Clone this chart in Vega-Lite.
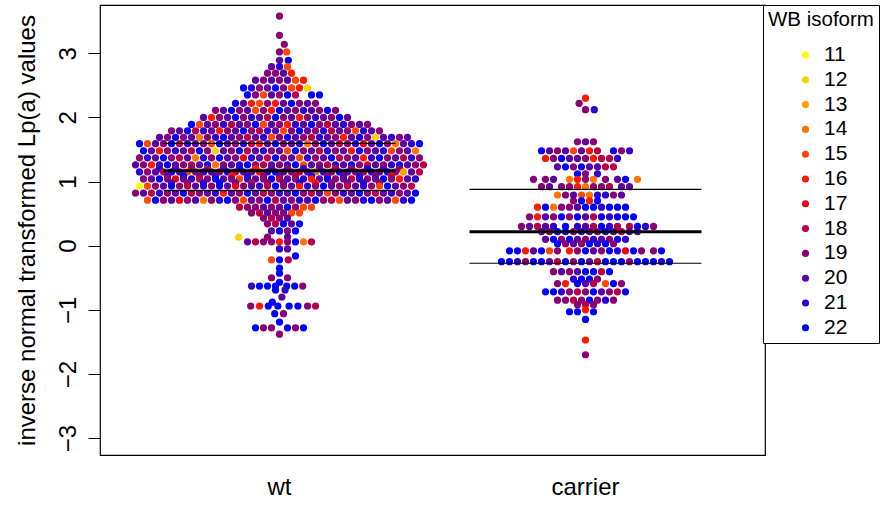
{
"$schema":"https://vega.github.io/schema/vega-lite/v6.json",
"width":665,"height":450,
"autosize":"none",
"padding":{"left":100,"top":5,"right":119,"bottom":53},
"background":"white",
"config":{"view":{"stroke":"black","strokeWidth":1.2},"font":"Liberation Sans"},
"datasets":{
"med":[{"g":"wt","v":1.169},{"g":"carrier","v":0.218}],
"quart":[{"g":"wt","v":0.857},{"g":"wt","v":1.596},{"g":"carrier","v":-0.274},{"g":"carrier","v":0.879}],
"pts":[
{"g":"wt","y":3.58,"o":0,"c":19},{"g":"wt","y":3.28,"o":0,"c":19},{"g":"wt","y":3.14,"o":0.6,"c":19},
{"g":"wt","y":3.02,"o":0,"c":19},{"g":"wt","y":3.02,"o":0.9,"c":15},
{"g":"wt","y":2.89,"o":0,"c":20},{"g":"wt","y":2.89,"o":1.1,"c":22},
{"g":"wt","y":2.79,"o":-1,"c":20},{"g":"wt","y":2.79,"o":0,"c":21},{"g":"wt","y":2.79,"o":1,"c":15},
{"g":"wt","y":2.69,"o":-1.5,"c":19},{"g":"wt","y":2.69,"o":-0.5,"c":19},{"g":"wt","y":2.69,"o":0.5,"c":20},{"g":"wt","y":2.69,"o":1.5,"c":16},
{"g":"wt","y":2.58,"o":-3,"c":20},{"g":"wt","y":2.58,"o":-2,"c":19},{"g":"wt","y":2.58,"o":-1,"c":20},{"g":"wt","y":2.58,"o":0,"c":19},{"g":"wt","y":2.58,"o":1,"c":20},{"g":"wt","y":2.58,"o":2,"c":15},{"g":"wt","y":2.58,"o":3,"c":16},
{"g":"wt","y":2.46,"o":-4.5,"c":22},{"g":"wt","y":2.46,"o":-3.5,"c":21},{"g":"wt","y":2.46,"o":-2.5,"c":19},{"g":"wt","y":2.46,"o":-1.5,"c":20},{"g":"wt","y":2.46,"o":-0.5,"c":22},{"g":"wt","y":2.46,"o":0.5,"c":19},{"g":"wt","y":2.46,"o":1.5,"c":15},{"g":"wt","y":2.46,"o":2.5,"c":16},{"g":"wt","y":2.46,"o":3.5,"c":12},
{"g":"wt","y":2.35,"o":-4,"c":22},{"g":"wt","y":2.35,"o":-3,"c":19},{"g":"wt","y":2.35,"o":-2,"c":15},{"g":"wt","y":2.35,"o":-1,"c":20},{"g":"wt","y":2.35,"o":0,"c":19},{"g":"wt","y":2.35,"o":1,"c":22},{"g":"wt","y":2.35,"o":2,"c":18},{"g":"wt","y":2.35,"o":4,"c":22},{"g":"wt","y":2.35,"o":5,"c":22},
{"g":"wt","y":2.22,"o":-5.5,"c":22},{"g":"wt","y":2.22,"o":-4.5,"c":20},{"g":"wt","y":2.22,"o":-3.5,"c":16},{"g":"wt","y":2.22,"o":-2.5,"c":15},{"g":"wt","y":2.22,"o":-1.5,"c":19},{"g":"wt","y":2.22,"o":-0.5,"c":16},{"g":"wt","y":2.22,"o":0.5,"c":20},{"g":"wt","y":2.22,"o":1.5,"c":22},{"g":"wt","y":2.22,"o":2.5,"c":19},{"g":"wt","y":2.22,"o":3.5,"c":20},{"g":"wt","y":2.22,"o":4.5,"c":19},
{"g":"wt","y":2.11,"o":-8,"c":19},{"g":"wt","y":2.11,"o":-7,"c":20},{"g":"wt","y":2.11,"o":-6,"c":22},{"g":"wt","y":2.11,"o":-5,"c":19},{"g":"wt","y":2.11,"o":-4,"c":20},{"g":"wt","y":2.11,"o":-3,"c":15},{"g":"wt","y":2.11,"o":-2,"c":19},{"g":"wt","y":2.11,"o":-1,"c":16},{"g":"wt","y":2.11,"o":0,"c":22},{"g":"wt","y":2.11,"o":1,"c":20},{"g":"wt","y":2.11,"o":2,"c":19},{"g":"wt","y":2.11,"o":3,"c":21},{"g":"wt","y":2.11,"o":4,"c":20},{"g":"wt","y":2.11,"o":5,"c":19},{"g":"wt","y":2.11,"o":6,"c":22},{"g":"wt","y":2.11,"o":7,"c":19},
{"g":"wt","y":2.0,"o":-9.5,"c":20},{"g":"wt","y":2.0,"o":-8.5,"c":16},{"g":"wt","y":2.0,"o":-7.5,"c":19},{"g":"wt","y":2.0,"o":-6.5,"c":20},{"g":"wt","y":2.0,"o":-5.5,"c":22},{"g":"wt","y":2.0,"o":-4.5,"c":19},{"g":"wt","y":2.0,"o":-3.5,"c":21},{"g":"wt","y":2.0,"o":-2.5,"c":20},{"g":"wt","y":2.0,"o":-1.5,"c":18},{"g":"wt","y":2.0,"o":-0.5,"c":22},{"g":"wt","y":2.0,"o":0.5,"c":19},{"g":"wt","y":2.0,"o":1.5,"c":20},{"g":"wt","y":2.0,"o":2.5,"c":16},{"g":"wt","y":2.0,"o":3.5,"c":19},{"g":"wt","y":2.0,"o":4.5,"c":21},{"g":"wt","y":2.0,"o":5.5,"c":20},{"g":"wt","y":2.0,"o":6.5,"c":19},{"g":"wt","y":2.0,"o":7.5,"c":22},{"g":"wt","y":2.0,"o":8.5,"c":20},
{"g":"wt","y":1.89,"o":-11,"c":22},{"g":"wt","y":1.89,"o":-10,"c":15},{"g":"wt","y":1.89,"o":-9,"c":20},{"g":"wt","y":1.89,"o":-8,"c":19},{"g":"wt","y":1.89,"o":-7,"c":21},{"g":"wt","y":1.89,"o":-6,"c":18},{"g":"wt","y":1.89,"o":-5,"c":20},{"g":"wt","y":1.89,"o":-4,"c":19},{"g":"wt","y":1.89,"o":-3,"c":22},{"g":"wt","y":1.89,"o":-2,"c":15},{"g":"wt","y":1.89,"o":-1,"c":20},{"g":"wt","y":1.89,"o":0,"c":19},{"g":"wt","y":1.89,"o":1,"c":16},{"g":"wt","y":1.89,"o":2,"c":21},{"g":"wt","y":1.89,"o":3,"c":20},{"g":"wt","y":1.89,"o":4,"c":22},{"g":"wt","y":1.89,"o":5,"c":19},{"g":"wt","y":1.89,"o":6,"c":18},{"g":"wt","y":1.89,"o":7,"c":20},{"g":"wt","y":1.89,"o":8,"c":21},{"g":"wt","y":1.89,"o":9,"c":19},{"g":"wt","y":1.89,"o":10,"c":20},{"g":"wt","y":1.89,"o":11,"c":19},
{"g":"wt","y":1.79,"o":-13.5,"c":19},{"g":"wt","y":1.79,"o":-12.5,"c":20},{"g":"wt","y":1.79,"o":-11.5,"c":22},{"g":"wt","y":1.79,"o":-10.5,"c":18},{"g":"wt","y":1.79,"o":-9.5,"c":21},{"g":"wt","y":1.79,"o":-8.5,"c":20},{"g":"wt","y":1.79,"o":-7.5,"c":16},{"g":"wt","y":1.79,"o":-6.5,"c":19},{"g":"wt","y":1.79,"o":-5.5,"c":20},{"g":"wt","y":1.79,"o":-4.5,"c":22},{"g":"wt","y":1.79,"o":-3.5,"c":19},{"g":"wt","y":1.79,"o":-2.5,"c":18},{"g":"wt","y":1.79,"o":-1.5,"c":21},{"g":"wt","y":1.79,"o":-0.5,"c":20},{"g":"wt","y":1.79,"o":0.5,"c":15},{"g":"wt","y":1.79,"o":1.5,"c":19},{"g":"wt","y":1.79,"o":2.5,"c":22},{"g":"wt","y":1.79,"o":3.5,"c":20},{"g":"wt","y":1.79,"o":4.5,"c":19},{"g":"wt","y":1.79,"o":5.5,"c":21},{"g":"wt","y":1.79,"o":6.5,"c":18},{"g":"wt","y":1.79,"o":7.5,"c":20},{"g":"wt","y":1.79,"o":8.5,"c":19},{"g":"wt","y":1.79,"o":9.5,"c":15},{"g":"wt","y":1.79,"o":10.5,"c":21},{"g":"wt","y":1.79,"o":11.5,"c":20},{"g":"wt","y":1.79,"o":12.5,"c":19},
{"g":"wt","y":1.69,"o":-15,"c":20},{"g":"wt","y":1.69,"o":-14,"c":19},{"g":"wt","y":1.69,"o":-13,"c":22},{"g":"wt","y":1.69,"o":-12,"c":19},{"g":"wt","y":1.69,"o":-11,"c":20},{"g":"wt","y":1.69,"o":-10,"c":14},{"g":"wt","y":1.69,"o":-9,"c":19},{"g":"wt","y":1.69,"o":-8,"c":21},{"g":"wt","y":1.69,"o":-7,"c":22},{"g":"wt","y":1.69,"o":-6,"c":20},{"g":"wt","y":1.69,"o":-5,"c":19},{"g":"wt","y":1.69,"o":-4,"c":18},{"g":"wt","y":1.69,"o":-3,"c":20},{"g":"wt","y":1.69,"o":-2,"c":21},{"g":"wt","y":1.69,"o":-1,"c":15},{"g":"wt","y":1.69,"o":0,"c":19},{"g":"wt","y":1.69,"o":1,"c":22},{"g":"wt","y":1.69,"o":2,"c":20},{"g":"wt","y":1.69,"o":3,"c":19},{"g":"wt","y":1.69,"o":4,"c":18},{"g":"wt","y":1.69,"o":5,"c":21},{"g":"wt","y":1.69,"o":6,"c":20},{"g":"wt","y":1.69,"o":7,"c":19},{"g":"wt","y":1.69,"o":8,"c":16},{"g":"wt","y":1.69,"o":9,"c":20},{"g":"wt","y":1.69,"o":10,"c":22},{"g":"wt","y":1.69,"o":11,"c":19},{"g":"wt","y":1.69,"o":12,"c":12},{"g":"wt","y":1.69,"o":13,"c":20},{"g":"wt","y":1.69,"o":14,"c":21},{"g":"wt","y":1.69,"o":15,"c":19},{"g":"wt","y":1.69,"o":16,"c":20},
{"g":"wt","y":1.59,"o":-17.5,"c":22},{"g":"wt","y":1.59,"o":-16.5,"c":15},{"g":"wt","y":1.59,"o":-15.5,"c":20},{"g":"wt","y":1.59,"o":-14.5,"c":19},{"g":"wt","y":1.59,"o":-13.5,"c":22},{"g":"wt","y":1.59,"o":-12.5,"c":18},{"g":"wt","y":1.59,"o":-11.5,"c":21},{"g":"wt","y":1.59,"o":-10.5,"c":20},{"g":"wt","y":1.59,"o":-9.5,"c":19},{"g":"wt","y":1.59,"o":-8.5,"c":15},{"g":"wt","y":1.59,"o":-7.5,"c":22},{"g":"wt","y":1.59,"o":-6.5,"c":20},{"g":"wt","y":1.59,"o":-5.5,"c":19},{"g":"wt","y":1.59,"o":-4.5,"c":21},{"g":"wt","y":1.59,"o":-3.5,"c":18},{"g":"wt","y":1.59,"o":-2.5,"c":16},{"g":"wt","y":1.59,"o":-1.5,"c":20},{"g":"wt","y":1.59,"o":-0.5,"c":22},{"g":"wt","y":1.59,"o":0.5,"c":19},{"g":"wt","y":1.59,"o":1.5,"c":20},{"g":"wt","y":1.59,"o":2.5,"c":21},{"g":"wt","y":1.59,"o":3.5,"c":14},{"g":"wt","y":1.59,"o":4.5,"c":19},{"g":"wt","y":1.59,"o":5.5,"c":22},{"g":"wt","y":1.59,"o":6.5,"c":20},{"g":"wt","y":1.59,"o":7.5,"c":18},{"g":"wt","y":1.59,"o":8.5,"c":19},{"g":"wt","y":1.59,"o":9.5,"c":21},{"g":"wt","y":1.59,"o":10.5,"c":17},{"g":"wt","y":1.59,"o":11.5,"c":20},{"g":"wt","y":1.59,"o":12.5,"c":22},{"g":"wt","y":1.59,"o":13.5,"c":19},{"g":"wt","y":1.59,"o":14.5,"c":14},{"g":"wt","y":1.59,"o":15.5,"c":20},{"g":"wt","y":1.59,"o":16.5,"c":21},{"g":"wt","y":1.59,"o":17.5,"c":22},
{"g":"wt","y":1.48,"o":-17,"c":22},{"g":"wt","y":1.48,"o":-16,"c":20},{"g":"wt","y":1.48,"o":-15,"c":16},{"g":"wt","y":1.48,"o":-14,"c":19},{"g":"wt","y":1.48,"o":-13,"c":21},{"g":"wt","y":1.48,"o":-12,"c":20},{"g":"wt","y":1.48,"o":-11,"c":18},{"g":"wt","y":1.48,"o":-10,"c":22},{"g":"wt","y":1.48,"o":-9,"c":19},{"g":"wt","y":1.48,"o":-8,"c":12},{"g":"wt","y":1.48,"o":-7,"c":20},{"g":"wt","y":1.48,"o":-6,"c":19},{"g":"wt","y":1.48,"o":-5,"c":22},{"g":"wt","y":1.48,"o":-4,"c":18},{"g":"wt","y":1.48,"o":-3,"c":20},{"g":"wt","y":1.48,"o":-2,"c":21},{"g":"wt","y":1.48,"o":-1,"c":19},{"g":"wt","y":1.48,"o":0,"c":20},{"g":"wt","y":1.48,"o":1,"c":15},{"g":"wt","y":1.48,"o":2,"c":22},{"g":"wt","y":1.48,"o":3,"c":19},{"g":"wt","y":1.48,"o":4,"c":20},{"g":"wt","y":1.48,"o":5,"c":18},{"g":"wt","y":1.48,"o":6,"c":21},{"g":"wt","y":1.48,"o":7,"c":19},{"g":"wt","y":1.48,"o":8,"c":20},{"g":"wt","y":1.48,"o":9,"c":16},{"g":"wt","y":1.48,"o":10,"c":22},{"g":"wt","y":1.48,"o":11,"c":19},{"g":"wt","y":1.48,"o":12,"c":20},{"g":"wt","y":1.48,"o":13,"c":21},{"g":"wt","y":1.48,"o":14,"c":15},{"g":"wt","y":1.48,"o":15,"c":19},{"g":"wt","y":1.48,"o":16,"c":20},{"g":"wt","y":1.48,"o":17,"c":14},
{"g":"wt","y":1.37,"o":-17.5,"c":19},{"g":"wt","y":1.37,"o":-16.5,"c":21},{"g":"wt","y":1.37,"o":-15.5,"c":20},{"g":"wt","y":1.37,"o":-14.5,"c":22},{"g":"wt","y":1.37,"o":-13.5,"c":19},{"g":"wt","y":1.37,"o":-12.5,"c":18},{"g":"wt","y":1.37,"o":-11.5,"c":20},{"g":"wt","y":1.37,"o":-10.5,"c":14},{"g":"wt","y":1.37,"o":-9.5,"c":21},{"g":"wt","y":1.37,"o":-8.5,"c":19},{"g":"wt","y":1.37,"o":-7.5,"c":22},{"g":"wt","y":1.37,"o":-6.5,"c":20},{"g":"wt","y":1.37,"o":-5.5,"c":19},{"g":"wt","y":1.37,"o":-4.5,"c":17},{"g":"wt","y":1.37,"o":-3.5,"c":21},{"g":"wt","y":1.37,"o":-2.5,"c":20},{"g":"wt","y":1.37,"o":-1.5,"c":18},{"g":"wt","y":1.37,"o":-0.5,"c":22},{"g":"wt","y":1.37,"o":0.5,"c":19},{"g":"wt","y":1.37,"o":1.5,"c":20},{"g":"wt","y":1.37,"o":2.5,"c":15},{"g":"wt","y":1.37,"o":3.5,"c":21},{"g":"wt","y":1.37,"o":4.5,"c":19},{"g":"wt","y":1.37,"o":5.5,"c":20},{"g":"wt","y":1.37,"o":6.5,"c":22},{"g":"wt","y":1.37,"o":7.5,"c":18},{"g":"wt","y":1.37,"o":8.5,"c":19},{"g":"wt","y":1.37,"o":9.5,"c":20},{"g":"wt","y":1.37,"o":10.5,"c":16},{"g":"wt","y":1.37,"o":11.5,"c":21},{"g":"wt","y":1.37,"o":12.5,"c":22},{"g":"wt","y":1.37,"o":13.5,"c":19},{"g":"wt","y":1.37,"o":14.5,"c":20},{"g":"wt","y":1.37,"o":15.5,"c":18},{"g":"wt","y":1.37,"o":16.5,"c":21},{"g":"wt","y":1.37,"o":17.5,"c":19},
{"g":"wt","y":1.26,"o":-18,"c":20},{"g":"wt","y":1.26,"o":-17,"c":19},{"g":"wt","y":1.26,"o":-16,"c":16},{"g":"wt","y":1.26,"o":-15,"c":21},{"g":"wt","y":1.26,"o":-14,"c":22},{"g":"wt","y":1.26,"o":-13,"c":20},{"g":"wt","y":1.26,"o":-12,"c":19},{"g":"wt","y":1.26,"o":-11,"c":18},{"g":"wt","y":1.26,"o":-10,"c":20},{"g":"wt","y":1.26,"o":-9,"c":22},{"g":"wt","y":1.26,"o":-8,"c":14},{"g":"wt","y":1.26,"o":-7,"c":19},{"g":"wt","y":1.26,"o":-6,"c":20},{"g":"wt","y":1.26,"o":-5,"c":21},{"g":"wt","y":1.26,"o":-4,"c":22},{"g":"wt","y":1.26,"o":-3,"c":19},{"g":"wt","y":1.26,"o":-2,"c":18},{"g":"wt","y":1.26,"o":-1,"c":20},{"g":"wt","y":1.26,"o":0,"c":19},{"g":"wt","y":1.26,"o":1,"c":21},{"g":"wt","y":1.26,"o":2,"c":22},{"g":"wt","y":1.26,"o":3,"c":15},{"g":"wt","y":1.26,"o":4,"c":20},{"g":"wt","y":1.26,"o":5,"c":19},{"g":"wt","y":1.26,"o":6,"c":18},{"g":"wt","y":1.26,"o":7,"c":21},{"g":"wt","y":1.26,"o":8,"c":20},{"g":"wt","y":1.26,"o":9,"c":22},{"g":"wt","y":1.26,"o":10,"c":19},{"g":"wt","y":1.26,"o":11,"c":17},{"g":"wt","y":1.26,"o":12,"c":20},{"g":"wt","y":1.26,"o":13,"c":19},{"g":"wt","y":1.26,"o":14,"c":21},{"g":"wt","y":1.26,"o":15,"c":22},{"g":"wt","y":1.26,"o":16,"c":20},{"g":"wt","y":1.26,"o":17,"c":19},{"g":"wt","y":1.26,"o":18,"c":18},
{"g":"wt","y":1.2,"o":-15,"c":21},{"g":"wt","y":1.2,"o":-13,"c":20},{"g":"wt","y":1.2,"o":-11,"c":19},{"g":"wt","y":1.2,"o":-9,"c":18},{"g":"wt","y":1.2,"o":-7,"c":20},{"g":"wt","y":1.2,"o":-5,"c":22},{"g":"wt","y":1.2,"o":-3,"c":16},{"g":"wt","y":1.2,"o":-1,"c":20},{"g":"wt","y":1.2,"o":1,"c":19},{"g":"wt","y":1.2,"o":3,"c":21},{"g":"wt","y":1.2,"o":5,"c":20},{"g":"wt","y":1.2,"o":7,"c":18},{"g":"wt","y":1.2,"o":9,"c":19},{"g":"wt","y":1.2,"o":11,"c":22},{"g":"wt","y":1.2,"o":13,"c":20},{"g":"wt","y":1.2,"o":15,"c":19},
{"g":"wt","y":1.15,"o":-17.5,"c":21},{"g":"wt","y":1.15,"o":-16.5,"c":19},{"g":"wt","y":1.15,"o":-15.5,"c":20},{"g":"wt","y":1.15,"o":-14.5,"c":18},{"g":"wt","y":1.15,"o":-13.5,"c":22},{"g":"wt","y":1.15,"o":-12.5,"c":20},{"g":"wt","y":1.15,"o":-11.5,"c":15},{"g":"wt","y":1.15,"o":-10.5,"c":19},{"g":"wt","y":1.15,"o":-9.5,"c":21},{"g":"wt","y":1.15,"o":-8.5,"c":20},{"g":"wt","y":1.15,"o":-7.5,"c":19},{"g":"wt","y":1.15,"o":-6.5,"c":22},{"g":"wt","y":1.15,"o":-5.5,"c":18},{"g":"wt","y":1.15,"o":-4.5,"c":20},{"g":"wt","y":1.15,"o":-3.5,"c":19},{"g":"wt","y":1.15,"o":-2.5,"c":16},{"g":"wt","y":1.15,"o":-1.5,"c":21},{"g":"wt","y":1.15,"o":-0.5,"c":22},{"g":"wt","y":1.15,"o":0.5,"c":20},{"g":"wt","y":1.15,"o":1.5,"c":19},{"g":"wt","y":1.15,"o":2.5,"c":18},{"g":"wt","y":1.15,"o":3.5,"c":20},{"g":"wt","y":1.15,"o":4.5,"c":14},{"g":"wt","y":1.15,"o":5.5,"c":21},{"g":"wt","y":1.15,"o":6.5,"c":19},{"g":"wt","y":1.15,"o":7.5,"c":22},{"g":"wt","y":1.15,"o":8.5,"c":20},{"g":"wt","y":1.15,"o":9.5,"c":19},{"g":"wt","y":1.15,"o":10.5,"c":18},{"g":"wt","y":1.15,"o":11.5,"c":21},{"g":"wt","y":1.15,"o":12.5,"c":20},{"g":"wt","y":1.15,"o":13.5,"c":22},{"g":"wt","y":1.15,"o":14.5,"c":19},{"g":"wt","y":1.15,"o":15.5,"c":13},{"g":"wt","y":1.15,"o":16.5,"c":20},{"g":"wt","y":1.15,"o":17.5,"c":18},
{"g":"wt","y":1.09,"o":-14,"c":20},{"g":"wt","y":1.09,"o":-12,"c":22},{"g":"wt","y":1.09,"o":-10,"c":19},{"g":"wt","y":1.09,"o":-8,"c":20},{"g":"wt","y":1.09,"o":-6,"c":16},{"g":"wt","y":1.09,"o":-4,"c":21},{"g":"wt","y":1.09,"o":-2,"c":19},{"g":"wt","y":1.09,"o":0,"c":20},{"g":"wt","y":1.09,"o":2,"c":18},{"g":"wt","y":1.09,"o":4,"c":22},{"g":"wt","y":1.09,"o":6,"c":19},{"g":"wt","y":1.09,"o":8,"c":20},{"g":"wt","y":1.09,"o":10,"c":21},{"g":"wt","y":1.09,"o":12,"c":19},{"g":"wt","y":1.09,"o":14,"c":17},
{"g":"wt","y":1.04,"o":-17,"c":19},{"g":"wt","y":1.04,"o":-16,"c":20},{"g":"wt","y":1.04,"o":-15,"c":22},{"g":"wt","y":1.04,"o":-14,"c":19},{"g":"wt","y":1.04,"o":-13,"c":17},{"g":"wt","y":1.04,"o":-12,"c":20},{"g":"wt","y":1.04,"o":-11,"c":21},{"g":"wt","y":1.04,"o":-10,"c":18},{"g":"wt","y":1.04,"o":-9,"c":19},{"g":"wt","y":1.04,"o":-8,"c":22},{"g":"wt","y":1.04,"o":-7,"c":20},{"g":"wt","y":1.04,"o":-6,"c":19},{"g":"wt","y":1.04,"o":-5,"c":15},{"g":"wt","y":1.04,"o":-4,"c":21},{"g":"wt","y":1.04,"o":-3,"c":20},{"g":"wt","y":1.04,"o":-2,"c":19},{"g":"wt","y":1.04,"o":-1,"c":22},{"g":"wt","y":1.04,"o":0,"c":18},{"g":"wt","y":1.04,"o":1,"c":20},{"g":"wt","y":1.04,"o":2,"c":19},{"g":"wt","y":1.04,"o":3,"c":21},{"g":"wt","y":1.04,"o":4,"c":16},{"g":"wt","y":1.04,"o":5,"c":20},{"g":"wt","y":1.04,"o":6,"c":22},{"g":"wt","y":1.04,"o":7,"c":19},{"g":"wt","y":1.04,"o":8,"c":20},{"g":"wt","y":1.04,"o":9,"c":18},{"g":"wt","y":1.04,"o":10,"c":21},{"g":"wt","y":1.04,"o":11,"c":19},{"g":"wt","y":1.04,"o":12,"c":20},{"g":"wt","y":1.04,"o":13,"c":22},{"g":"wt","y":1.04,"o":14,"c":19},{"g":"wt","y":1.04,"o":15,"c":16},{"g":"wt","y":1.04,"o":16,"c":20},{"g":"wt","y":1.04,"o":17,"c":21},
{"g":"wt","y":0.98,"o":-13.5,"c":20},{"g":"wt","y":0.98,"o":-11.5,"c":19},{"g":"wt","y":0.98,"o":-9.5,"c":21},{"g":"wt","y":0.98,"o":-7.5,"c":22},{"g":"wt","y":0.98,"o":-5.5,"c":20},{"g":"wt","y":0.98,"o":-3.5,"c":18},{"g":"wt","y":0.98,"o":-1.5,"c":19},{"g":"wt","y":0.98,"o":0.5,"c":20},{"g":"wt","y":0.98,"o":2.5,"c":22},{"g":"wt","y":0.98,"o":4.5,"c":16},{"g":"wt","y":0.98,"o":6.5,"c":19},{"g":"wt","y":0.98,"o":8.5,"c":20},{"g":"wt","y":0.98,"o":10.5,"c":21},{"g":"wt","y":0.98,"o":12.5,"c":19},
{"g":"wt","y":0.93,"o":-17.5,"c":11},{"g":"wt","y":0.93,"o":-16.5,"c":15},{"g":"wt","y":0.93,"o":-15.5,"c":19},{"g":"wt","y":0.93,"o":-14.5,"c":20},{"g":"wt","y":0.93,"o":-13.5,"c":22},{"g":"wt","y":0.93,"o":-12.5,"c":19},{"g":"wt","y":0.93,"o":-11.5,"c":18},{"g":"wt","y":0.93,"o":-10.5,"c":20},{"g":"wt","y":0.93,"o":-9.5,"c":21},{"g":"wt","y":0.93,"o":-8.5,"c":19},{"g":"wt","y":0.93,"o":-7.5,"c":22},{"g":"wt","y":0.93,"o":-6.5,"c":20},{"g":"wt","y":0.93,"o":-5.5,"c":17},{"g":"wt","y":0.93,"o":-4.5,"c":19},{"g":"wt","y":0.93,"o":-3.5,"c":20},{"g":"wt","y":0.93,"o":-2.5,"c":21},{"g":"wt","y":0.93,"o":-1.5,"c":18},{"g":"wt","y":0.93,"o":-0.5,"c":22},{"g":"wt","y":0.93,"o":0.5,"c":19},{"g":"wt","y":0.93,"o":1.5,"c":20},{"g":"wt","y":0.93,"o":2.5,"c":16},{"g":"wt","y":0.93,"o":3.5,"c":21},{"g":"wt","y":0.93,"o":4.5,"c":19},{"g":"wt","y":0.93,"o":5.5,"c":22},{"g":"wt","y":0.93,"o":6.5,"c":20},{"g":"wt","y":0.93,"o":7.5,"c":19},{"g":"wt","y":0.93,"o":8.5,"c":18},{"g":"wt","y":0.93,"o":9.5,"c":20},{"g":"wt","y":0.93,"o":10.5,"c":21},{"g":"wt","y":0.93,"o":11.5,"c":19},{"g":"wt","y":0.93,"o":12.5,"c":15},{"g":"wt","y":0.93,"o":13.5,"c":22},{"g":"wt","y":0.93,"o":14.5,"c":20},{"g":"wt","y":0.93,"o":15.5,"c":19},{"g":"wt","y":0.93,"o":16.5,"c":18},
{"g":"wt","y":0.82,"o":-18,"c":19},{"g":"wt","y":0.82,"o":-17,"c":20},{"g":"wt","y":0.82,"o":-16,"c":18},{"g":"wt","y":0.82,"o":-15,"c":21},{"g":"wt","y":0.82,"o":-14,"c":19},{"g":"wt","y":0.82,"o":-13,"c":20},{"g":"wt","y":0.82,"o":-12,"c":22},{"g":"wt","y":0.82,"o":-11,"c":18},{"g":"wt","y":0.82,"o":-10,"c":19},{"g":"wt","y":0.82,"o":-9,"c":20},{"g":"wt","y":0.82,"o":-8,"c":21},{"g":"wt","y":0.82,"o":-7,"c":16},{"g":"wt","y":0.82,"o":-6,"c":20},{"g":"wt","y":0.82,"o":-5,"c":19},{"g":"wt","y":0.82,"o":-4,"c":22},{"g":"wt","y":0.82,"o":-3,"c":20},{"g":"wt","y":0.82,"o":-2,"c":18},{"g":"wt","y":0.82,"o":-1,"c":19},{"g":"wt","y":0.82,"o":0,"c":21},{"g":"wt","y":0.82,"o":1,"c":20},{"g":"wt","y":0.82,"o":2,"c":22},{"g":"wt","y":0.82,"o":3,"c":19},{"g":"wt","y":0.82,"o":4,"c":18},{"g":"wt","y":0.82,"o":5,"c":20},{"g":"wt","y":0.82,"o":6,"c":15},{"g":"wt","y":0.82,"o":7,"c":19},{"g":"wt","y":0.82,"o":8,"c":21},{"g":"wt","y":0.82,"o":9,"c":20},{"g":"wt","y":0.82,"o":10,"c":22},{"g":"wt","y":0.82,"o":11,"c":19},{"g":"wt","y":0.82,"o":12,"c":18},{"g":"wt","y":0.82,"o":13,"c":20},{"g":"wt","y":0.82,"o":14,"c":21},{"g":"wt","y":0.82,"o":15,"c":19},{"g":"wt","y":0.82,"o":16,"c":20},{"g":"wt","y":0.82,"o":17,"c":22},
{"g":"wt","y":0.71,"o":-16.5,"c":15},{"g":"wt","y":0.71,"o":-15.5,"c":22},{"g":"wt","y":0.71,"o":-14.5,"c":19},{"g":"wt","y":0.71,"o":-13.5,"c":20},{"g":"wt","y":0.71,"o":-12.5,"c":17},{"g":"wt","y":0.71,"o":-11.5,"c":19},{"g":"wt","y":0.71,"o":-10.5,"c":20},{"g":"wt","y":0.71,"o":-9.5,"c":14},{"g":"wt","y":0.71,"o":-8.5,"c":19},{"g":"wt","y":0.71,"o":-7.5,"c":21},{"g":"wt","y":0.71,"o":-6.5,"c":22},{"g":"wt","y":0.71,"o":-5.5,"c":19},{"g":"wt","y":0.71,"o":-4.5,"c":15},{"g":"wt","y":0.71,"o":-3.5,"c":20},{"g":"wt","y":0.71,"o":-2.5,"c":19},{"g":"wt","y":0.71,"o":-1.5,"c":22},{"g":"wt","y":0.71,"o":-0.5,"c":18},{"g":"wt","y":0.71,"o":0.5,"c":20},{"g":"wt","y":0.71,"o":1.5,"c":19},{"g":"wt","y":0.71,"o":2.5,"c":21},{"g":"wt","y":0.71,"o":3.5,"c":20},{"g":"wt","y":0.71,"o":4.5,"c":22},{"g":"wt","y":0.71,"o":5.5,"c":19},{"g":"wt","y":0.71,"o":6.5,"c":18},{"g":"wt","y":0.71,"o":7.5,"c":15},{"g":"wt","y":0.71,"o":8.5,"c":20},{"g":"wt","y":0.71,"o":9.5,"c":19},{"g":"wt","y":0.71,"o":10.5,"c":21},{"g":"wt","y":0.71,"o":11.5,"c":22},{"g":"wt","y":0.71,"o":12.5,"c":19},{"g":"wt","y":0.71,"o":13.5,"c":20},{"g":"wt","y":0.71,"o":14.5,"c":15},{"g":"wt","y":0.71,"o":15.5,"c":21},{"g":"wt","y":0.71,"o":16.5,"c":22},
{"g":"wt","y":0.6,"o":-5,"c":18},{"g":"wt","y":0.6,"o":-4,"c":19},{"g":"wt","y":0.6,"o":-3,"c":19},{"g":"wt","y":0.6,"o":-2,"c":20},{"g":"wt","y":0.6,"o":-1,"c":19},{"g":"wt","y":0.6,"o":0,"c":20},{"g":"wt","y":0.6,"o":1,"c":22},{"g":"wt","y":0.6,"o":2,"c":19},{"g":"wt","y":0.6,"o":3,"c":15},{"g":"wt","y":0.6,"o":4,"c":15},
{"g":"wt","y":0.51,"o":-3.5,"c":19},{"g":"wt","y":0.51,"o":-2.5,"c":18},{"g":"wt","y":0.51,"o":-1.5,"c":20},{"g":"wt","y":0.51,"o":-0.5,"c":19},{"g":"wt","y":0.51,"o":0.5,"c":19},{"g":"wt","y":0.51,"o":1.5,"c":15},{"g":"wt","y":0.51,"o":2.5,"c":15},
{"g":"wt","y":0.43,"o":-2,"c":19},{"g":"wt","y":0.43,"o":-1,"c":18},{"g":"wt","y":0.43,"o":0,"c":19},{"g":"wt","y":0.43,"o":1,"c":20},
{"g":"wt","y":0.34,"o":-1.5,"c":19},{"g":"wt","y":0.34,"o":-0.5,"c":18},{"g":"wt","y":0.34,"o":0.5,"c":22},{"g":"wt","y":0.34,"o":1.5,"c":20},{"g":"wt","y":0.34,"o":2.5,"c":22},
{"g":"wt","y":0.23,"o":-1,"c":20},{"g":"wt","y":0.23,"o":0,"c":22},{"g":"wt","y":0.23,"o":1,"c":19},{"g":"wt","y":0.23,"o":2,"c":22},
{"g":"wt","y":0.135,"o":-5.1,"c":12},{"g":"wt","y":0.135,"o":-1.5,"c":19},{"g":"wt","y":0.135,"o":1,"c":20},
{"g":"wt","y":0.06,"o":-4,"c":20},{"g":"wt","y":0.06,"o":-3,"c":18},{"g":"wt","y":0.06,"o":-2,"c":19},{"g":"wt","y":0.06,"o":-1,"c":19},{"g":"wt","y":0.06,"o":0,"c":16},{"g":"wt","y":0.06,"o":1,"c":19},{"g":"wt","y":0.06,"o":2,"c":22},{"g":"wt","y":0.06,"o":3,"c":14},{"g":"wt","y":0.06,"o":4,"c":18},
{"g":"wt","y":-0.05,"o":0,"c":21},{"g":"wt","y":-0.05,"o":1,"c":20},
{"g":"wt","y":-0.16,"o":2,"c":22},
{"g":"wt","y":-0.22,"o":-1,"c":15},{"g":"wt","y":-0.22,"o":0,"c":22},{"g":"wt","y":-0.22,"o":1.1,"c":18},
{"g":"wt","y":-0.35,"o":0,"c":22},{"g":"wt","y":-0.43,"o":0,"c":22},
{"g":"wt","y":-0.5,"o":-1,"c":19},{"g":"wt","y":-0.5,"o":1,"c":19},
{"g":"wt","y":-0.57,"o":0,"c":22},
{"g":"wt","y":-0.63,"o":-3.5,"c":21},{"g":"wt","y":-0.63,"o":-2.5,"c":22},{"g":"wt","y":-0.63,"o":-1.5,"c":22},{"g":"wt","y":-0.63,"o":-0.5,"c":22},{"g":"wt","y":-0.63,"o":0.9,"c":22},{"g":"wt","y":-0.63,"o":1.9,"c":22},{"g":"wt","y":-0.63,"o":2.9,"c":19},
{"g":"wt","y":-0.69,"o":-0.5,"c":22},{"g":"wt","y":-0.69,"o":0.7,"c":21},
{"g":"wt","y":-0.8,"o":0.3,"c":20},{"g":"wt","y":-0.88,"o":-0.9,"c":22},
{"g":"wt","y":-0.94,"o":-3.6,"c":19},{"g":"wt","y":-0.94,"o":-2.5,"c":16},{"g":"wt","y":-0.94,"o":-1.4,"c":22},{"g":"wt","y":-0.94,"o":-0.2,"c":22},{"g":"wt","y":-0.94,"o":1.2,"c":22},{"g":"wt","y":-0.94,"o":2.3,"c":22},{"g":"wt","y":-0.94,"o":3.5,"c":19},{"g":"wt","y":-0.94,"o":4.5,"c":18},
{"g":"wt","y":-1.06,"o":-0.6,"c":22},{"g":"wt","y":-1.06,"o":0.5,"c":19},
{"g":"wt","y":-1.19,"o":0,"c":22},
{"g":"wt","y":-1.28,"o":-3,"c":22},{"g":"wt","y":-1.28,"o":-2,"c":19},{"g":"wt","y":-1.28,"o":-1,"c":19},{"g":"wt","y":-1.28,"o":1,"c":22},{"g":"wt","y":-1.28,"o":2,"c":19},{"g":"wt","y":-1.28,"o":3,"c":22},
{"g":"wt","y":-1.38,"o":0,"c":19},
{"g":"carrier","y":2.3,"o":0,"c":16},{"g":"carrier","y":2.22,"o":-0.8,"c":19},{"g":"carrier","y":2.12,"o":0,"c":19},{"g":"carrier","y":2.12,"o":1.1,"c":21},
{"g":"carrier","y":1.62,"o":-1,"c":19},{"g":"carrier","y":1.62,"o":0,"c":20},{"g":"carrier","y":1.62,"o":1,"c":19},
{"g":"carrier","y":1.48,"o":-5.5,"c":22},{"g":"carrier","y":1.48,"o":-4.5,"c":20},{"g":"carrier","y":1.48,"o":-3.5,"c":19},{"g":"carrier","y":1.48,"o":-2.5,"c":20},{"g":"carrier","y":1.48,"o":-1.5,"c":15},{"g":"carrier","y":1.48,"o":-0.5,"c":20},{"g":"carrier","y":1.48,"o":0.5,"c":16},{"g":"carrier","y":1.48,"o":1.5,"c":18},{"g":"carrier","y":1.48,"o":3.5,"c":22},{"g":"carrier","y":1.48,"o":4.5,"c":19},{"g":"carrier","y":1.48,"o":5.5,"c":21},
{"g":"carrier","y":1.36,"o":-5,"c":16},{"g":"carrier","y":1.36,"o":-4,"c":19},{"g":"carrier","y":1.36,"o":-3,"c":22},{"g":"carrier","y":1.36,"o":-2,"c":20},{"g":"carrier","y":1.36,"o":-1,"c":20},{"g":"carrier","y":1.36,"o":0,"c":19},{"g":"carrier","y":1.36,"o":1,"c":16},{"g":"carrier","y":1.36,"o":2,"c":18},{"g":"carrier","y":1.36,"o":3,"c":18},{"g":"carrier","y":1.36,"o":4,"c":21},
{"g":"carrier","y":1.23,"o":-3.5,"c":20},{"g":"carrier","y":1.23,"o":-2.5,"c":22},{"g":"carrier","y":1.23,"o":-1.5,"c":19},{"g":"carrier","y":1.23,"o":-0.5,"c":22},{"g":"carrier","y":1.23,"o":0.5,"c":20},{"g":"carrier","y":1.23,"o":1.5,"c":20},{"g":"carrier","y":1.23,"o":2.5,"c":18},{"g":"carrier","y":1.23,"o":3.5,"c":18},
{"g":"carrier","y":1.12,"o":-1,"c":22},{"g":"carrier","y":1.12,"o":0,"c":19},{"g":"carrier","y":1.12,"o":1.5,"c":21},
{"g":"carrier","y":1.035,"o":-6.5,"c":19},{"g":"carrier","y":1.035,"o":-5,"c":19},{"g":"carrier","y":1.035,"o":-4,"c":20},{"g":"carrier","y":1.035,"o":-2,"c":14},{"g":"carrier","y":1.035,"o":-1,"c":16},{"g":"carrier","y":1.035,"o":0,"c":19},{"g":"carrier","y":1.035,"o":1,"c":14},{"g":"carrier","y":1.035,"o":2.5,"c":19},{"g":"carrier","y":1.035,"o":4,"c":20},{"g":"carrier","y":1.035,"o":5,"c":22},{"g":"carrier","y":1.035,"o":6.5,"c":14},
{"g":"carrier","y":0.92,"o":-5.5,"c":19},{"g":"carrier","y":0.92,"o":-4.5,"c":20},{"g":"carrier","y":0.92,"o":-3,"c":19},{"g":"carrier","y":0.92,"o":-2,"c":19},{"g":"carrier","y":0.92,"o":-1,"c":16},{"g":"carrier","y":0.92,"o":0,"c":14},{"g":"carrier","y":0.92,"o":1,"c":19},{"g":"carrier","y":0.92,"o":2,"c":19},{"g":"carrier","y":0.92,"o":3,"c":18},{"g":"carrier","y":0.92,"o":4.5,"c":20},{"g":"carrier","y":0.92,"o":5.5,"c":20},
{"g":"carrier","y":0.79,"o":-3.5,"c":14},{"g":"carrier","y":0.79,"o":-2.5,"c":19},{"g":"carrier","y":0.79,"o":-1.5,"c":20},{"g":"carrier","y":0.79,"o":-0.5,"c":15},{"g":"carrier","y":0.79,"o":0.5,"c":14},{"g":"carrier","y":0.79,"o":1.5,"c":21},{"g":"carrier","y":0.79,"o":2.5,"c":21},{"g":"carrier","y":0.79,"o":3.5,"c":19},{"g":"carrier","y":0.79,"o":4.5,"c":20},
{"g":"carrier","y":0.7,"o":-1.5,"c":19},{"g":"carrier","y":0.7,"o":-0.5,"c":22},{"g":"carrier","y":0.7,"o":0.5,"c":16},{"g":"carrier","y":0.7,"o":1.5,"c":22},
{"g":"carrier","y":0.6,"o":-6,"c":16},{"g":"carrier","y":0.6,"o":-5,"c":22},{"g":"carrier","y":0.6,"o":-4,"c":14},{"g":"carrier","y":0.6,"o":-3,"c":19},{"g":"carrier","y":0.6,"o":-2,"c":19},{"g":"carrier","y":0.6,"o":-1,"c":20},{"g":"carrier","y":0.6,"o":0,"c":22},{"g":"carrier","y":0.6,"o":1,"c":22},{"g":"carrier","y":0.6,"o":2,"c":21},{"g":"carrier","y":0.6,"o":3,"c":22},{"g":"carrier","y":0.6,"o":4,"c":22},{"g":"carrier","y":0.6,"o":5,"c":22},
{"g":"carrier","y":0.45,"o":-7,"c":19},{"g":"carrier","y":0.45,"o":-6,"c":16},{"g":"carrier","y":0.45,"o":-5,"c":20},{"g":"carrier","y":0.45,"o":-4,"c":19},{"g":"carrier","y":0.45,"o":-3,"c":22},{"g":"carrier","y":0.45,"o":-2,"c":19},{"g":"carrier","y":0.45,"o":-1,"c":22},{"g":"carrier","y":0.45,"o":0,"c":20},{"g":"carrier","y":0.45,"o":1,"c":18},{"g":"carrier","y":0.45,"o":2,"c":22},{"g":"carrier","y":0.45,"o":3,"c":21},{"g":"carrier","y":0.45,"o":4,"c":22},{"g":"carrier","y":0.45,"o":5,"c":22},{"g":"carrier","y":0.45,"o":6,"c":22},
{"g":"carrier","y":0.3,"o":-8,"c":19},{"g":"carrier","y":0.3,"o":-7,"c":20},{"g":"carrier","y":0.3,"o":-6,"c":18},{"g":"carrier","y":0.3,"o":-5,"c":20},{"g":"carrier","y":0.3,"o":-4,"c":21},{"g":"carrier","y":0.3,"o":-2.5,"c":22},{"g":"carrier","y":0.3,"o":-1,"c":21},{"g":"carrier","y":0.3,"o":0,"c":20},{"g":"carrier","y":0.3,"o":1,"c":18},{"g":"carrier","y":0.3,"o":2,"c":22},{"g":"carrier","y":0.3,"o":3,"c":21},{"g":"carrier","y":0.3,"o":4,"c":18},{"g":"carrier","y":0.3,"o":5.5,"c":18},{"g":"carrier","y":0.3,"o":6.5,"c":22},{"g":"carrier","y":0.3,"o":7.5,"c":21},{"g":"carrier","y":0.3,"o":8.5,"c":19},
{"g":"carrier","y":0.22,"o":-5.5,"c":20},{"g":"carrier","y":0.22,"o":-4.5,"c":19},{"g":"carrier","y":0.22,"o":-3.5,"c":22},{"g":"carrier","y":0.22,"o":-2.5,"c":22},{"g":"carrier","y":0.22,"o":-1.5,"c":19},{"g":"carrier","y":0.22,"o":-0.5,"c":21},{"g":"carrier","y":0.22,"o":0.5,"c":20},{"g":"carrier","y":0.22,"o":1.5,"c":19},{"g":"carrier","y":0.22,"o":2.5,"c":22},{"g":"carrier","y":0.22,"o":3.5,"c":20},{"g":"carrier","y":0.22,"o":4.5,"c":18},{"g":"carrier","y":0.22,"o":5.5,"c":20},{"g":"carrier","y":0.22,"o":6.5,"c":21},
{"g":"carrier","y":0.1,"o":-5,"c":20},{"g":"carrier","y":0.1,"o":-4,"c":22},{"g":"carrier","y":0.1,"o":-3,"c":19},{"g":"carrier","y":0.1,"o":-2,"c":22},{"g":"carrier","y":0.1,"o":-1,"c":20},{"g":"carrier","y":0.1,"o":0,"c":19},{"g":"carrier","y":0.1,"o":1,"c":21},{"g":"carrier","y":0.1,"o":2,"c":20},{"g":"carrier","y":0.1,"o":3,"c":19},{"g":"carrier","y":0.1,"o":4,"c":22},{"g":"carrier","y":0.1,"o":5,"c":21},
{"g":"carrier","y":0.03,"o":-3.5,"c":22},{"g":"carrier","y":0.03,"o":-2.5,"c":19},{"g":"carrier","y":0.03,"o":-1.5,"c":20},{"g":"carrier","y":0.03,"o":-0.5,"c":19},{"g":"carrier","y":0.03,"o":0.5,"c":22},{"g":"carrier","y":0.03,"o":1.5,"c":21},{"g":"carrier","y":0.03,"o":2.5,"c":22},{"g":"carrier","y":0.03,"o":3.5,"c":19},
{"g":"carrier","y":-0.08,"o":-9.5,"c":22},{"g":"carrier","y":-0.08,"o":-8.5,"c":22},{"g":"carrier","y":-0.08,"o":-7.5,"c":16},{"g":"carrier","y":-0.08,"o":-6.5,"c":20},{"g":"carrier","y":-0.08,"o":-5.5,"c":22},{"g":"carrier","y":-0.08,"o":-4.5,"c":15},{"g":"carrier","y":-0.08,"o":-3.5,"c":19},{"g":"carrier","y":-0.08,"o":-2,"c":16},{"g":"carrier","y":-0.08,"o":-1,"c":19},{"g":"carrier","y":-0.08,"o":0,"c":22},{"g":"carrier","y":-0.08,"o":1,"c":20},{"g":"carrier","y":-0.08,"o":2,"c":19},{"g":"carrier","y":-0.08,"o":3,"c":22},{"g":"carrier","y":-0.08,"o":4,"c":21},{"g":"carrier","y":-0.08,"o":5,"c":17},{"g":"carrier","y":-0.08,"o":6,"c":22},{"g":"carrier","y":-0.08,"o":7,"c":19},{"g":"carrier","y":-0.08,"o":8.5,"c":19},{"g":"carrier","y":-0.08,"o":9.5,"c":22},
{"g":"carrier","y":-0.25,"o":-10.5,"c":22},{"g":"carrier","y":-0.25,"o":-9.5,"c":22},{"g":"carrier","y":-0.25,"o":-8.5,"c":21},{"g":"carrier","y":-0.25,"o":-7.5,"c":19},{"g":"carrier","y":-0.25,"o":-6.5,"c":22},{"g":"carrier","y":-0.25,"o":-5.5,"c":22},{"g":"carrier","y":-0.25,"o":-4.5,"c":20},{"g":"carrier","y":-0.25,"o":-3.5,"c":18},{"g":"carrier","y":-0.25,"o":-2.5,"c":22},{"g":"carrier","y":-0.25,"o":-1.5,"c":19},{"g":"carrier","y":-0.25,"o":-0.5,"c":22},{"g":"carrier","y":-0.25,"o":0.5,"c":20},{"g":"carrier","y":-0.25,"o":1.5,"c":18},{"g":"carrier","y":-0.25,"o":2.5,"c":22},{"g":"carrier","y":-0.25,"o":3.5,"c":22},{"g":"carrier","y":-0.25,"o":4.5,"c":22},{"g":"carrier","y":-0.25,"o":5.5,"c":19},{"g":"carrier","y":-0.25,"o":6.5,"c":22},{"g":"carrier","y":-0.25,"o":7.5,"c":22},{"g":"carrier","y":-0.25,"o":8.5,"c":22},{"g":"carrier","y":-0.25,"o":9.5,"c":21},{"g":"carrier","y":-0.25,"o":10.5,"c":22},
{"g":"carrier","y":-0.405,"o":-4,"c":19},{"g":"carrier","y":-0.405,"o":-3,"c":20},{"g":"carrier","y":-0.405,"o":-2,"c":19},{"g":"carrier","y":-0.405,"o":-1,"c":20},{"g":"carrier","y":-0.405,"o":0,"c":22},{"g":"carrier","y":-0.405,"o":1,"c":22},{"g":"carrier","y":-0.405,"o":2,"c":18},{"g":"carrier","y":-0.405,"o":3,"c":22},
{"g":"carrier","y":-0.52,"o":-1.5,"c":21},{"g":"carrier","y":-0.52,"o":-0.5,"c":22},{"g":"carrier","y":-0.52,"o":0.5,"c":22},{"g":"carrier","y":-0.52,"o":1.5,"c":19},
{"g":"carrier","y":-0.59,"o":-3.5,"c":19},{"g":"carrier","y":-0.59,"o":-2.5,"c":16},{"g":"carrier","y":-0.59,"o":-1,"c":22},{"g":"carrier","y":-0.59,"o":0,"c":20},{"g":"carrier","y":-0.59,"o":1,"c":18},{"g":"carrier","y":-0.59,"o":2.5,"c":15},{"g":"carrier","y":-0.59,"o":3.5,"c":22},{"g":"carrier","y":-0.59,"o":4.5,"c":19},
{"g":"carrier","y":-0.72,"o":-5,"c":22},{"g":"carrier","y":-0.72,"o":-4,"c":22},{"g":"carrier","y":-0.72,"o":-3,"c":21},{"g":"carrier","y":-0.72,"o":-2,"c":19},{"g":"carrier","y":-0.72,"o":-1,"c":18},{"g":"carrier","y":-0.72,"o":0,"c":19},{"g":"carrier","y":-0.72,"o":1,"c":22},{"g":"carrier","y":-0.72,"o":2,"c":20},{"g":"carrier","y":-0.72,"o":3,"c":19},{"g":"carrier","y":-0.72,"o":4,"c":18},{"g":"carrier","y":-0.72,"o":5,"c":22},
{"g":"carrier","y":-0.85,"o":-3.5,"c":19},{"g":"carrier","y":-0.85,"o":-2.5,"c":19},{"g":"carrier","y":-0.85,"o":-1.5,"c":18},{"g":"carrier","y":-0.85,"o":-0.5,"c":19},{"g":"carrier","y":-0.85,"o":0.5,"c":22},{"g":"carrier","y":-0.85,"o":1.5,"c":19},{"g":"carrier","y":-0.85,"o":2.5,"c":21},{"g":"carrier","y":-0.85,"o":3.5,"c":19},
{"g":"carrier","y":-0.92,"o":-1,"c":19},{"g":"carrier","y":-0.92,"o":0,"c":18},{"g":"carrier","y":-0.92,"o":1,"c":19},
{"g":"carrier","y":-1.0,"o":0,"c":16},
{"g":"carrier","y":-1.03,"o":-2,"c":22},{"g":"carrier","y":-1.03,"o":-1,"c":22},{"g":"carrier","y":-1.03,"o":1,"c":22},
{"g":"carrier","y":-1.15,"o":0,"c":22},{"g":"carrier","y":-1.47,"o":0,"c":16},{"g":"carrier","y":-1.7,"o":0,"c":19}
]},
"layer":[
{"data":{"name":"pts"},
 "mark":{"type":"circle","size":52,"opacity":1},
 "encoding":{
  "x":{"field":"g","type":"nominal","sort":["wt","carrier"],"scale":{"domain":["wt","carrier"],"paddingInner":0,"paddingOuter":0.0866},
       "axis":{"title":null,"labelAngle":0,"labelFontSize":24,"labelColor":"black","ticks":false,"domain":false,"labelPadding":20}},
  "xOffset":{"field":"o","type":"quantitative","scale":{"domain":[-19.125,19.125]}},
  "y":{"field":"y","type":"quantitative","scale":{"domain":[-3.263,3.752],"nice":false,"zero":false},
       "axis":{"title":"inverse normal transformed Lp(a) values","values":[-3,-2,-1,0,1,2,3],"format":"d","labelAngle":-90,"labelAlign":"center","labelBaseline":"bottom","labelFontSize":24,"labelColor":"black","tickSize":12,"tickColor":"black","domain":false,"grid":false,"labelPadding":8,"titleFontSize":24,"titleFontWeight":"normal","titleColor":"black","titlePadding":17}},
  "color":{"field":"c","type":"ordinal",
   "scale":{"domain":[11,12,13,14,15,16,17,18,19,20,21,22],"range":["#FFFF00","#FFD100","#FFA200","#FF7400","#FF4600","#FF1700","#E80017","#B90046","#8B0074","#5D00A2","#2E00D1","#0000FF"]},
   "legend":{"title":"WB isoform","orient":"none","legendX":663,"legendY":0,"titleFontSize":20.5,"titleFontWeight":"normal","titleColor":"black","labelFontSize":21,"labelColor":"black","symbolType":"circle","symbolSize":50,"symbolStrokeWidth":0,"symbolOffset":27,"labelOffset":8,"rowPadding":2.8,"padding":5,"strokeColor":"black","fillColor":"white","titlePadding":14}}
 }},
{"data":{"name":"med"},"mark":{"type":"tick","color":"black","size":232,"thickness":3,"opacity":1},
 "encoding":{"x":{"field":"g","type":"nominal"},"y":{"field":"v","type":"quantitative"}}},
{"data":{"name":"quart"},"mark":{"type":"tick","color":"black","size":232,"thickness":1.2,"opacity":1},
 "encoding":{"x":{"field":"g","type":"nominal"},"y":{"field":"v","type":"quantitative"}}}
]
}
